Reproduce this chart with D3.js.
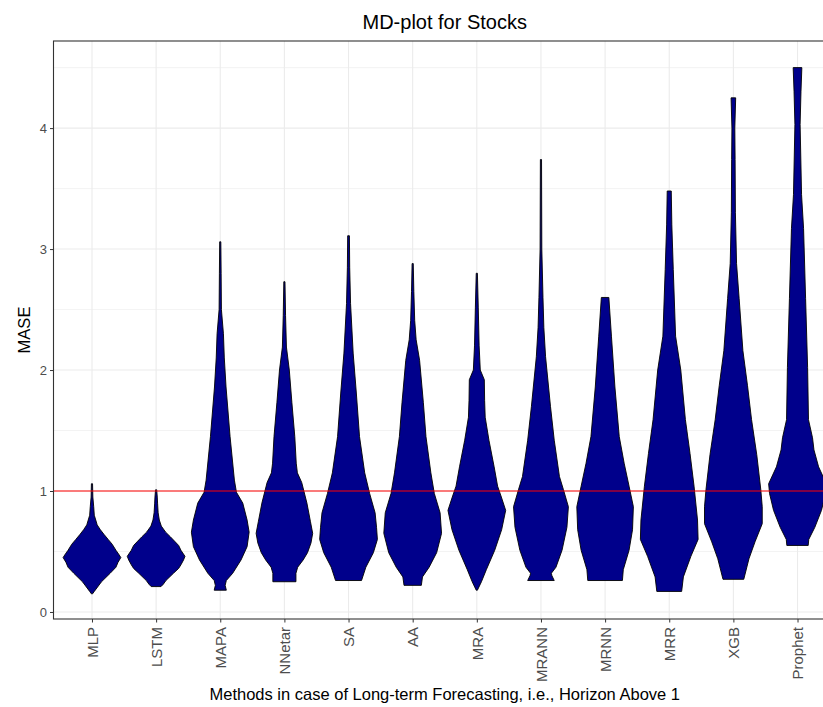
<!DOCTYPE html>
<html>
<head>
<meta charset="utf-8">
<script src="https://cdn.jsdelivr.net/npm/d3@7"></script>
<style>
  body { margin: 0; background: #fff; }
  svg { display: block; font-family: "Liberation Sans", Arial, sans-serif; }
</style>
</head>
<body>
<div id="chart"></div>
<script>
// methods in plotting order
const methods = ["MLP", "LSTM", "MAPA", "NNetar", "SA", "AA", "MRA", "MRANN", "MRNN", "MRR", "XGB", "Prophet"];

// density profiles: [MASE, relative half width]
const mlp = [[0.15,0.02],[0.17,0.08],[0.25,0.33],[0.32,0.63],[0.37,0.83],[0.41,0.9],[0.45,1.0],[0.48,0.92],[0.51,0.83],[0.56,0.7],[0.6,0.56],[0.64,0.42],[0.68,0.29],[0.72,0.18],[0.76,0.13],[0.8,0.08],[0.87,0.06],[0.95,0.03],[1.06,0.02]];
const lstm = [[0.21,0.17],[0.23,0.25],[0.26,0.34],[0.32,0.6],[0.36,0.78],[0.39,0.86],[0.43,0.95],[0.46,1.0],[0.51,0.86],[0.55,0.78],[0.58,0.66],[0.62,0.5],[0.66,0.33],[0.71,0.18],[0.76,0.11],[0.82,0.07],[0.9,0.05],[0.95,0.04],[1.01,0.02]];
const mapa = [[0.18,0.21],[0.22,0.17],[0.26,0.21],[0.32,0.43],[0.43,0.72],[0.54,0.93],[0.66,1.0],[0.76,0.93],[0.9,0.78],[0.99,0.56],[1.09,0.49],[1.45,0.34],[1.86,0.2],[2.1,0.14],[2.3,0.11],[2.5,0.04],[2.8,0.03],[3.06,0.02]];
const nnetar = [[0.25,0.4],[0.32,0.4],[0.37,0.46],[0.43,0.65],[0.49,0.8],[0.57,0.92],[0.65,0.98],[0.75,0.9],[0.9,0.78],[1.07,0.6],[1.15,0.45],[1.23,0.41],[1.45,0.36],[1.73,0.26],[2.0,0.17],[2.19,0.07],[2.45,0.04],[2.73,0.02]];
const sa = [[0.26,0.45],[0.37,0.6],[0.49,0.86],[0.6,1.0],[0.7,0.97],[0.82,0.92],[0.98,0.73],[1.15,0.56],[1.45,0.38],[1.81,0.27],[2.14,0.16],[2.55,0.07],[2.85,0.04],[3.11,0.03]];
const aa = [[0.22,0.3],[0.29,0.34],[0.37,0.57],[0.49,0.83],[0.65,1.0],[0.82,0.95],[0.98,0.75],[1.15,0.63],[1.45,0.46],[1.73,0.37],[2.08,0.24],[2.25,0.12],[2.41,0.07],[2.65,0.04],[2.88,0.02]];
const mra = [[0.18,0.02],[0.25,0.16],[0.35,0.33],[0.51,0.62],[0.68,0.86],[0.84,1.0],[0.95,0.85],[1.04,0.72],[1.2,0.6],[1.42,0.42],[1.61,0.29],[1.75,0.27],[1.92,0.26],[2.0,0.12],[2.2,0.08],[2.52,0.05],[2.8,0.02]];
const mrann = [[0.26,0.46],[0.3,0.38],[0.32,0.36],[0.37,0.52],[0.51,0.73],[0.7,0.9],[0.87,0.95],[1.01,0.78],[1.12,0.64],[1.42,0.46],[1.7,0.33],[2.11,0.16],[2.35,0.1],[2.6,0.07],[3.0,0.03],[3.74,0.02]];
const mrnn = [[0.26,0.6],[0.35,0.63],[0.51,0.83],[0.68,0.95],[0.87,0.98],[1.04,0.83],[1.23,0.66],[1.45,0.49],[1.86,0.34],[2.28,0.22],[2.6,0.13]];
const mrr = [[0.17,0.43],[0.29,0.49],[0.46,0.75],[0.6,1.0],[0.76,0.98],[1.04,0.86],[1.31,0.72],[1.59,0.56],[2.0,0.4],[2.28,0.22],[2.83,0.14],[3.2,0.09],[3.48,0.07]];
const xgb = [[0.27,0.36],[0.44,0.54],[0.58,0.75],[0.73,1.0],[0.87,1.0],[1.01,0.95],[1.3,0.81],[1.59,0.63],[1.87,0.49],[2.16,0.33],[2.59,0.2],[2.88,0.11],[3.3,0.07],[3.74,0.06],[4.0,0.05],[4.25,0.08]];
const prophet = [[0.55,0.37],[0.6,0.39],[0.7,0.6],[0.84,0.83],[0.98,0.97],[1.06,1.0],[1.2,0.73],[1.34,0.57],[1.44,0.52],[1.59,0.38],[2.02,0.35],[2.59,0.28],[3.17,0.21],[3.45,0.14],[4.03,0.09],[4.3,0.12],[4.5,0.15]];

const yTicks = [0, 1, 2, 3, 4];
const yMinor = [0.5, 1.5, 2.5, 3.5, 4.5];
const refLine = 1;

const profiles = [mlp, lstm, mapa, nnetar, sa, aa, mra, mrann, mrnn, mrr, xgb, prophet];

const width = 823, height = 707;
// panel runs past the right edge, as in the cropped original
const margin = { top: 41, right: -13, bottom: 88, left: 53.5 };

const svg = d3.select("#chart").append("svg")
  .attr("width", width)
  .attr("height", height);

const x = d3.scalePoint()
  .domain(methods)
  .range([margin.left, width - margin.right])
  .padding(0.6);

const y = d3.scaleLinear()
  .domain([-0.058, 4.72])
  .range([height - margin.bottom, margin.top]);

const halfW = d3.scaleLinear().domain([0, 1]).range([0, x.step() * 0.45]);

const panel = svg.append("g");

// minor + major grid
panel.selectAll("line.minor").data(yMinor).join("line")
  .attr("x1", margin.left).attr("x2", width - margin.right)
  .attr("y1", d => y(d)).attr("y2", d => y(d))
  .attr("stroke", "#ebebeb").attr("stroke-width", 0.6);
panel.selectAll("line.major").data(yTicks).join("line")
  .attr("x1", margin.left).attr("x2", width - margin.right)
  .attr("y1", d => y(d)).attr("y2", d => y(d))
  .attr("stroke", "#ebebeb").attr("stroke-width", 1.1);
panel.selectAll("line.vgrid").data(methods).join("line")
  .attr("x1", d => x(d)).attr("x2", d => x(d))
  .attr("y1", margin.top).attr("y2", height - margin.bottom)
  .attr("stroke", "#ebebeb").attr("stroke-width", 1.1);

// MD-plot shapes
const area = d3.area()
  .y(d => y(d[0]))
  .curve(d3.curveLinear);

methods.forEach((m, i) => {
  const cx = x(m);
  panel.append("path")
    .datum(profiles[i])
    .attr("d", area.x0(d => cx - halfW(d[1])).x1(d => cx + halfW(d[1])))
    .attr("fill", "#00008b")
    .attr("stroke", "#000")
    .attr("stroke-width", 0.9)
    .attr("stroke-linejoin", "miter");
});

// reference line at MASE = 1
panel.append("line")
  .attr("x1", margin.left).attr("x2", width - margin.right)
  .attr("y1", y(refLine)).attr("y2", y(refLine))
  .attr("stroke", "#ff0000").attr("stroke-width", 1);

// panel border
svg.append("rect")
  .attr("x", margin.left).attr("y", margin.top)
  .attr("width", width - margin.right - margin.left)
  .attr("height", height - margin.bottom - margin.top)
  .attr("fill", "none").attr("stroke", "#333").attr("stroke-width", 1.1);

// y axis
const yAxis = svg.append("g")
  .attr("transform", `translate(${margin.left},0)`)
  .call(d3.axisLeft(y).tickValues(yTicks).tickSize(3.5).tickPadding(3).tickFormat(d3.format("d")));
yAxis.select(".domain").remove();
yAxis.selectAll("line").attr("stroke", "#333");
yAxis.selectAll("text").attr("fill", "#4d4d4d").attr("font-size", 13).style("font-family", "inherit");

// x axis
const xAxis = svg.append("g")
  .attr("transform", `translate(0,${height - margin.bottom})`)
  .call(d3.axisBottom(x).tickSize(3.5).tickPadding(0));
xAxis.select(".domain").remove();
xAxis.selectAll("line").attr("stroke", "#333");
xAxis.selectAll("text")
  .attr("fill", "#4d4d4d").attr("font-size", 15).style("font-family", "inherit")
  .attr("transform", "rotate(-90)")
  .attr("text-anchor", "end")
  .attr("x", -8).attr("y", 0).attr("dy", "0.35em");

// titles
svg.append("text")
  .attr("x", (margin.left + width - margin.right) / 2).attr("y", 29)
  .attr("text-anchor", "middle").attr("font-size", 20).attr("fill", "#000")
  .text("MD-plot for Stocks");

svg.append("text")
  .attr("x", (margin.left + width - margin.right) / 2).attr("y", 700)
  .attr("text-anchor", "middle").attr("font-size", 16.5).attr("fill", "#000")
  .text("Methods in case of Long-term Forecasting, i.e., Horizon Above 1");

svg.append("text")
  .attr("transform", `translate(30,${(margin.top + height - margin.bottom) / 2}) rotate(-90)`)
  .attr("text-anchor", "middle").attr("font-size", 16.5).attr("fill", "#000")
  .text("MASE");
</script>
</body>
</html>
